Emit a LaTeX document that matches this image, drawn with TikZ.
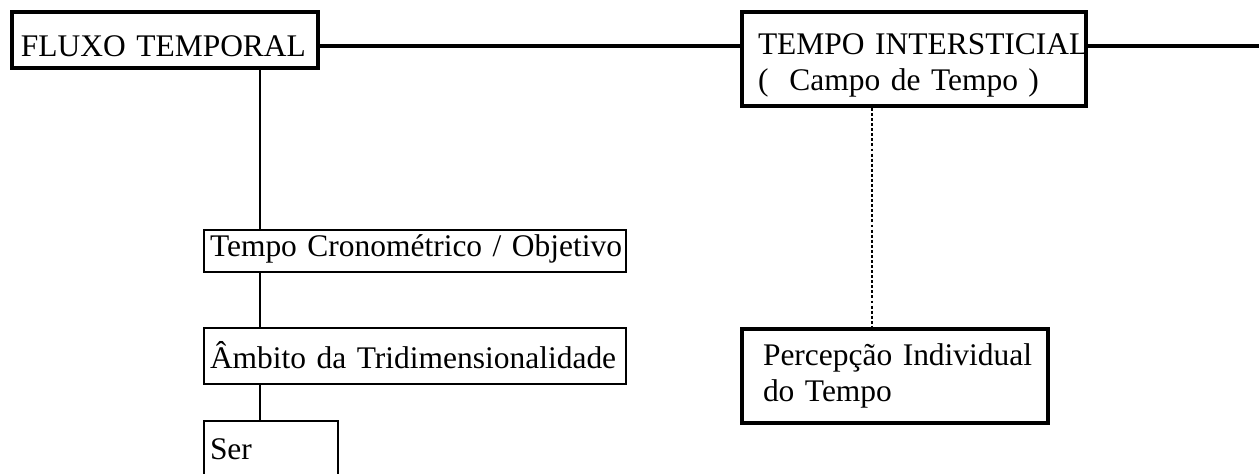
\documentclass[tikz,border=0pt]{standalone}
\usepackage{fontspec}
\setmainfont{Liberation Serif}
\newdimen\pxu
\pxu=0.75pt

\begin{document}
\begin{tikzpicture}[x=0.75pt,y=-0.75pt,
   every node/.style={anchor=north west,inner ysep=0pt,align=left,
      font=\fontsize{23.6}{27}\selectfont},
   caixa/.style={draw,line width=1.5pt},
   caixagrossa/.style={draw,line width=3pt},
   ligacao/.style={line width=1.5pt},
   ligacaogrossa/.style={line width=3pt},
   pontilhado/.style={line width=0.9pt,dash pattern=on 2.2pt off 1.6pt}]
\useasboundingbox (0,0) rectangle (1259,474);
\node[caixagrossa,inner xsep=9\pxu,text width=288\pxu,
   text height=45\pxu,text depth=11\pxu] (fluxo) at (10,10)
   {\mbox{FLUXO TEMPORAL}};
\node[caixagrossa,inner xsep=16\pxu,text width=312\pxu,
   text height=43\pxu,text depth=51\pxu] (inter) at (740,10)
   {\mbox{TEMPO INTERSTICIAL}\\\mbox{(\ \ Campo de Tempo )}};
\node[caixa,inner xsep=6\pxu,text width=410\pxu,
   text height=26\pxu,text depth=16\pxu] (crono) at (203,229)
   {\mbox{Tempo Cronométrico / Objetivo}};
\node[caixa,inner xsep=6\pxu,text width=410\pxu,
   text height=40\pxu,text depth=16\pxu] (ambito) at (203,327)
   {\mbox{Âmbito da Tridimensionalidade}};
\node[caixa,inner xsep=6\pxu,text width=122\pxu,
   text height=38\pxu,text depth=42\pxu] (ser) at (203,420) {Ser};
\node[caixagrossa,inner xsep=21\pxu,text width=264\pxu,
   text height=36\pxu,text depth=58\pxu] (perc) at (740,327)
   {\mbox{Percepção Individual}\\\mbox{do Tempo}};
\coordinate (fim) at (1259,46);
\coordinate (eixo) at (260,0);
\coordinate (eixob) at (872,0);
\draw[ligacaogrossa] (fluxo.east |- fim) -- (inter.west |- fim);
\draw[ligacaogrossa] (inter.east |- fim) -- (fim);
\draw[ligacao] (fluxo.south -| eixo) -- (crono.north -| eixo);
\draw[ligacao] (crono.south -| eixo) -- (ambito.north -| eixo);
\draw[ligacao] (ambito.south -| eixo) -- (ser.north -| eixo);
\draw[pontilhado] (inter.south -| eixob) -- (perc.north -| eixob);
\end{tikzpicture}
\end{document}
